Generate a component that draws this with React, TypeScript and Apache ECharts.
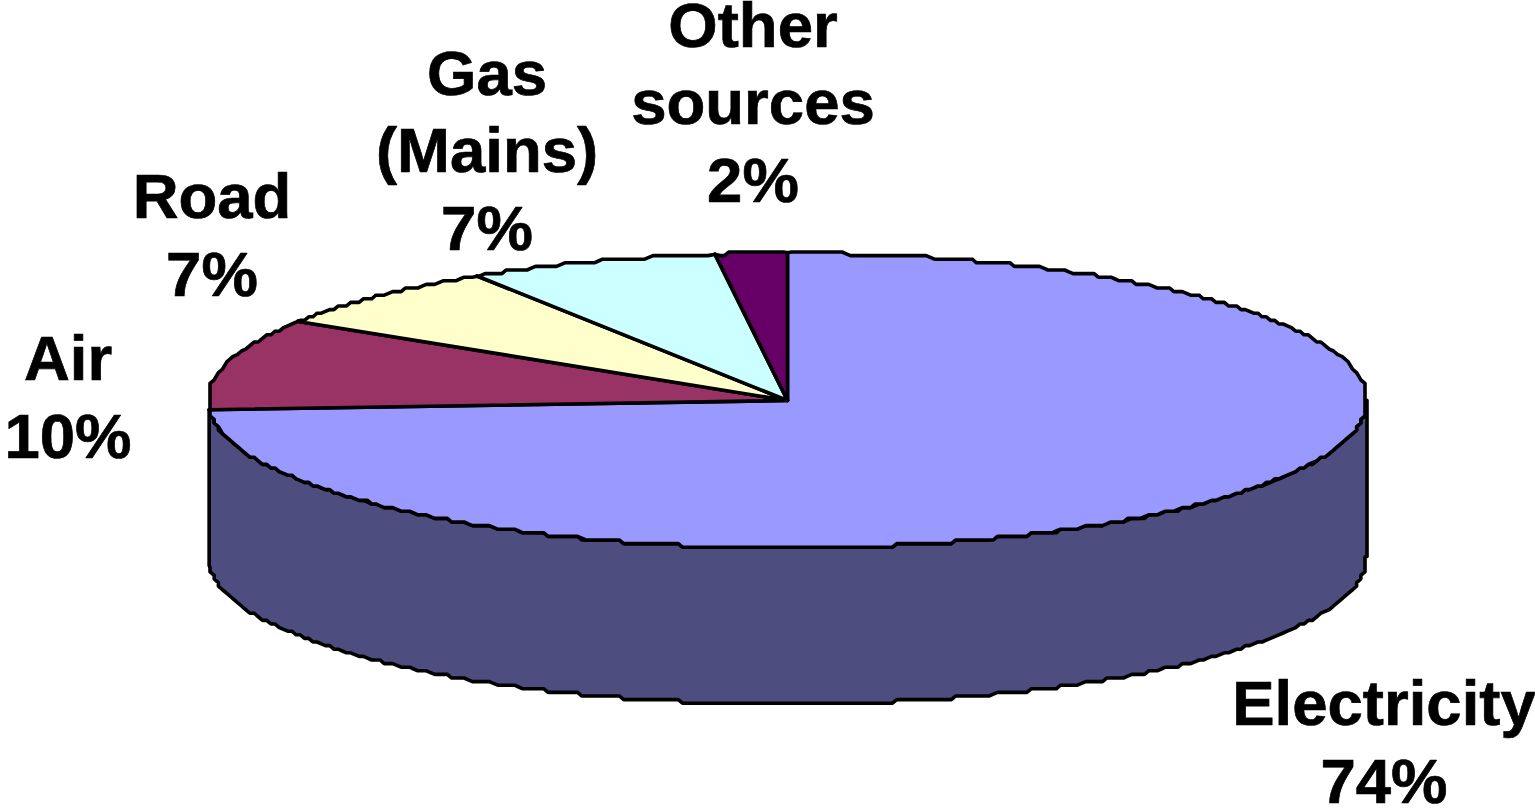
import React, { useEffect, useRef } from "react";
import * as echarts from "echarts";

const categories = ["Electricity", "Air", "Road", "Gas\n(Mains)", "Other\nsources"];
const shares = [74, 10, 7, 7, 2];
const topColors = ["#9999ff", "#993366", "#ffffcc", "#ccffff", "#660066"];
const wallColor = "#4d4d80";
const labelCentres = [
  [1384, 742],
  [68, 397],
  [212, 235],
  [487, 150],
  [753, 102],
];

const CX = 787.5;
const CY = 400.5;
const RX = 579.5;
const RY = 147.5;
const DEPTH = 156;
const GRID_X = 4.2;
const GRID_Y = 3.6;
const CUT = 7;
const total = shares.reduce((a, b) => a + b, 0);

const rimPoint = (deg: number, dy = 0, exact = false): number[] => {
  const a = (deg * Math.PI) / 180;
  const x = CX + RX * Math.sin(a);
  const y = CY - RY * Math.cos(a);
  return exact
    ? [x, y + dy]
    : [Math.round(x / GRID_X) * GRID_X, Math.round(y / GRID_Y) * GRID_Y + dy];
};
// Rounds the stair-step corners of the snapped rim into short diagonals.
const chamfer = (pts: number[][]): number[][] => {
  const out: number[][] = [pts[0]];
  for (let i = 1; i < pts.length - 1; i++) {
    const [p, c, n] = [pts[i - 1], pts[i], pts[i + 1]];
    const la = Math.hypot(c[0] - p[0], c[1] - p[1]);
    const lb = Math.hypot(n[0] - c[0], n[1] - c[1]);
    const ca = Math.min(CUT, la / 2);
    const cb = Math.min(CUT, lb / 2);
    out.push([c[0] + ((p[0] - c[0]) * ca) / la, c[1] + ((p[1] - c[1]) * ca) / la]);
    out.push([c[0] + ((n[0] - c[0]) * cb) / lb, c[1] + ((n[1] - c[1]) * cb) / lb]);
  }
  out.push(pts[pts.length - 1]);
  return out;
};
const arc = (from: number, to: number, dy = 0): number[][] => {
  const n = Math.max(2, Math.ceil(Math.abs(to - from) * 3));
  const pts: number[][] = [rimPoint(from, dy, true)];
  for (let i = 1; i < n; i++) {
    const p = rimPoint(from + ((to - from) * i) / n, dy);
    const last = pts[pts.length - 1];
    if (p[0] !== last[0] || p[1] !== last[1]) pts.push(p);
  }
  pts.push(rimPoint(to, dy, true));
  return chamfer(pts);
};

const renderSlice = (params: any, api: any) => {
  const i = params.dataIndex;
  const before = shares.slice(0, i).reduce((a, b) => a + b, 0);
  const start = (before / total) * 360;
  const end = start + (api.value(0) / total) * 360;
  const children: any[] = [];
  const line = { stroke: "#000", lineWidth: 3.6, lineJoin: "round" };

  const wallFrom = Math.max(start, 90);
  const wallTo = Math.min(end, 270);
  if (wallTo > wallFrom && i === 0) {
    const upper = arc(wallFrom, wallTo);
    const lower = arc(wallFrom, wallTo, DEPTH).reverse();
    children.push({
      type: "polygon",
      shape: { points: [...upper, ...lower] },
      style: { fill: wallColor, ...line },
    });
  }
  children.push({
    type: "polygon",
    shape: { points: [[CX, CY], ...arc(start, end)] },
    style: { fill: topColors[i], ...line },
  });
  children.push({
    type: "text",
    x: labelCentres[i][0],
    y: labelCentres[i][1],
    style: {
      text: `${categories[i]}\n${shares[i]}%`,
      fill: "#000",
      stroke: "#000",
      lineWidth: 0.7,
      font: 'bold 63.5px "Liberation Sans", Arial, sans-serif',
      lineHeight: 77.5,
      align: "center",
      verticalAlign: "middle",
    },
  });
  return { type: "group", children };
};

export default function App() {
  const ref = useRef<HTMLDivElement>(null);
  useEffect(() => {
    document.body.style.margin = "0";
    const chart = echarts.init(ref.current!, null, { renderer: "svg" });
    chart.setOption({
      animation: false,
      backgroundColor: "#fff",
      series: [
        {
          type: "custom",
          coordinateSystem: "none",
          renderItem: renderSlice,
          clip: false,
          silent: true,
          data: shares.map((v, i) => ({ name: categories[i], value: [v] })),
        },
      ],
    });
    return () => chart.dispose();
  }, []);
  return (
    <div
      ref={ref}
      style={{ position: "fixed", left: 0, top: 0, width: 1535, height: 808 }}
    />
  );
}
